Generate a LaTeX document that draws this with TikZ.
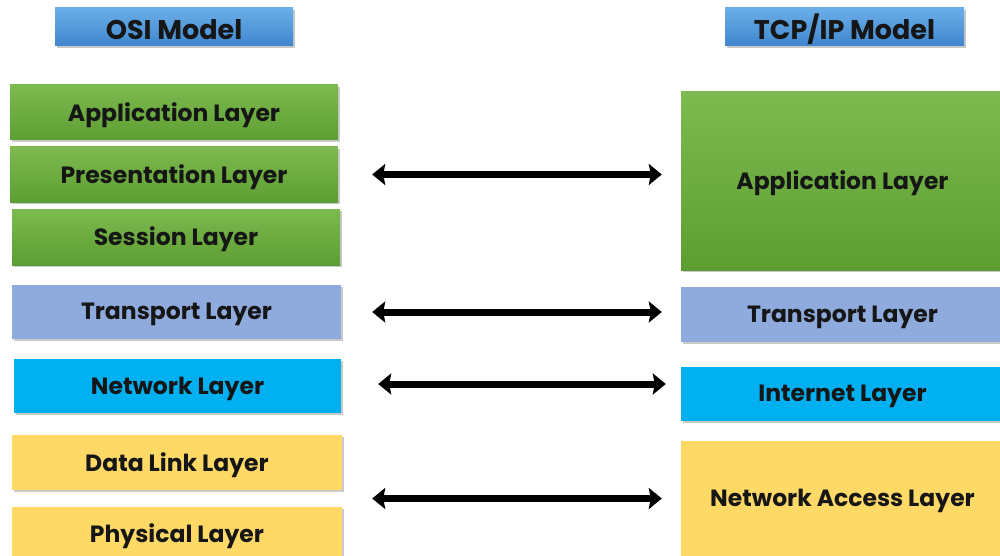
\documentclass[tikz,border=0pt]{standalone}
\usepackage{fontspec}
\setmainfont{Poppins}
\usetikzlibrary{arrows.meta,shadows,calc}
\definecolor{grntop}{HTML}{7DBA4F}
\definecolor{grnbot}{HTML}{5D9E33}
\definecolor{ttltop}{HTML}{6AAEE8}
\definecolor{ttlbot}{HTML}{3F86CE}
\definecolor{trans}{HTML}{8FAADC}
\definecolor{netw}{HTML}{00B0F0}
\definecolor{yel}{HTML}{FFD966}
\definecolor{ink}{HTML}{161616}
\tikzset{
  layer/.style={inner sep=0pt, text=ink, font=\bfseries\fontsize{23.5}{26}\selectfont,
    drop shadow={shadow xshift=1.5pt, shadow yshift=-2pt, opacity=0.35, fill=black!60}},
  green layer/.style={layer, top color=grntop, bottom color=grnbot},
  title box/.style={layer, top color=ttltop, bottom color=ttlbot, font=\bfseries\fontsize{27}{30}\selectfont},
  link/.style={line width=7pt, {Stealth[length=13pt,width=21pt,inset=2pt]}-{Stealth[length=13pt,width=21pt,inset=2pt]}, draw=black}
}
% a box placed by its corners in pixel-like units; the label sits slightly low
\newcommand{\layerbox}[7]{\node[#1, minimum width=#4-#2, minimum height=#5-#3] (#6) at ({(#2+#4)/2},{(#3+#5)/2}) {\raisebox{-2.5pt}[\height][\depth]{#7}}}
\begin{document}
\begin{tikzpicture}[x=1pt,y=-1pt]
\useasboundingbox[fill=white] (0,0) rectangle (1000,556);
\clip (0,0) rectangle (1000,556);
% headings
\layerbox{title box}{55}{8}{293}{46}{osi}{OSI Model};
\layerbox{title box}{725}{8}{964}{46}{tcp}{TCP/IP Model};
% OSI layers
\layerbox{green layer}{10}{85}{338}{140}{oapp}{Application Layer};
\layerbox{green layer}{10}{147}{338}{202}{opre}{Presentation Layer};
\layerbox{green layer}{12}{209}{340}{265}{oses}{Session Layer};
\layerbox{layer,fill=trans}{12}{285}{341}{339}{otra}{Transport Layer};
\layerbox{layer,fill=netw}{14}{359}{341}{413}{onet}{Network Layer};
\layerbox{layer,fill=yel}{12}{435}{342}{490}{odl}{Data Link Layer};
\layerbox{layer,fill=yel}{12}{507}{342}{570}{ophy}{\raisebox{4.5pt}[\height][\depth]{Physical Layer}};
% TCP/IP layers
\layerbox{green layer}{681}{92}{1004}{270}{tapp}{Application Layer};
\layerbox{layer,fill=trans}{681}{287}{1004}{342}{ttra}{Transport Layer};
\layerbox{layer,fill=netw}{681}{367}{1004}{421}{tint}{Internet Layer};
\layerbox{layer,fill=yel}{681}{441}{1004}{556}{tna}{Network Access Layer};
% correspondences
\draw[link] ([xshift=34pt]opre.east) -- ([xshift=-19pt]opre.east -| tapp.west);
\draw[link] ([xshift=31pt]otra.east) -- ([xshift=-19pt]otra.east -| ttra.west);
\draw[link] ([xshift=37pt,yshift=2pt]onet.east) -- ([xshift=-15pt,yshift=2pt]onet.east -| tint.west);
\coordinate (na) at ($(odl.south east)!0.5!(ophy.north east)$);
\draw[link] ([xshift=30pt]na) -- ([xshift=-19pt]na -| tna.west);
\end{tikzpicture}
\end{document}
